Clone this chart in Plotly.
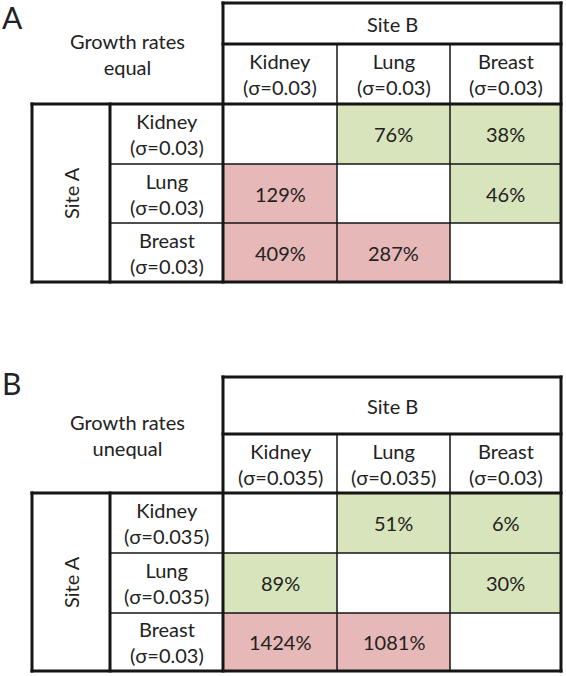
import plotly.graph_objects as go

# ---------------- data ----------------
PANEL_LABELS = ["A", "B"]
CORNER_TITLES = ["Growth rates<br>equal", "Growth rates<br>unequal"]
SITES = ["Kidney", "Lung", "Breast"]
SIGMA_PANEL_A = ["0.03", "0.03", "0.03"]
SIGMA_PANEL_B = ["0.035", "0.035", "0.03"]
VALUES_PANEL_A = [[None, 76, 38], [129, None, 46], [409, 287, None]]
VALUES_PANEL_B = [[None, 51, 6], [89, None, 30], [1424, 1081, None]]
ROW_GROUP = "Site A"
COL_GROUP = "Site B"
THRESHOLD = 100

# ---------------- layout / style ----------------
W, H = 566, 676
X_EDGES = [32, 110, 223, 337, 450, 561]
Y_EDGES = [[3, 44, 104, 164, 223, 282], [377, 434, 493, 553, 613, 671]]
LABEL_POS = [(12, 17), (11, 383)]
GREEN = "#d8e4bc"
RED = "#e6b8b7"
LINE = "#151515"
TXT = "#222222"
FONT = "Lato"
FS = 20
THICK, THIN = 3, 1.5

fig = go.Figure()
shapes = []
annots = []


def hline(y, x0, x1, w):
    e = w / 2 if w == THICK else 0
    shapes.append(dict(type="line", xref="x", yref="y", x0=x0 - e, x1=x1 + e, y0=y, y1=y,
                       line=dict(color=LINE, width=w), layer="above"))


def vline(x, y0, y1, w):
    e = w / 2 if w == THICK else 0
    shapes.append(dict(type="line", xref="x", yref="y", x0=x, x1=x, y0=y0 - e, y1=y1 + e,
                       line=dict(color=LINE, width=w), layer="above"))


def text(x, y, s, size=FS, angle=0):
    annots.append(dict(x=x, y=y, xref="x", yref="y", text=s, showarrow=False,
                       font=dict(family=FONT, size=size, color=TXT), textangle=angle,
                       xanchor="center", yanchor="middle", align="center"))


panels = [(SIGMA_PANEL_A, VALUES_PANEL_A), (SIGMA_PANEL_B, VALUES_PANEL_B)]
for p, (sigmas, vals) in enumerate(panels):
    ye = Y_EDGES[p]
    xe = X_EDGES
    # fills
    for i in range(3):
        for j in range(3):
            v = vals[i][j]
            if v is None:
                continue
            shapes.append(dict(type="rect", xref="x", yref="y",
                               x0=xe[2 + j], x1=xe[3 + j], y0=ye[2 + i], y1=ye[3 + i],
                               fillcolor=GREEN if v < THRESHOLD else RED,
                               line=dict(width=0), layer="below"))
            text((xe[2 + j] + xe[3 + j]) / 2, (ye[2 + i] + ye[3 + i]) / 2, f"{v}%")
    # labels
    text((xe[0] + xe[2]) / 2, (ye[0] + ye[2]) / 2, CORNER_TITLES[p])
    text((xe[2] + xe[5]) / 2, (ye[0] + ye[1]) / 2, COL_GROUP)
    text((xe[0] + xe[1]) / 2, (ye[2] + ye[5]) / 2, ROW_GROUP, angle=-90)
    for k in range(3):
        lab = f"{SITES[k]}<br>(σ={sigmas[k]})"
        text((xe[2 + k] + xe[3 + k]) / 2, (ye[1] + ye[2]) / 2, lab)
        text((xe[1] + xe[2]) / 2, (ye[2 + k] + ye[3 + k]) / 2, lab)
    lx, ly = LABEL_POS[p]
    text(lx, ly, PANEL_LABELS[p], size=30)
    # thin lines
    for k in (3, 4):
        vline(xe[k], ye[1], ye[5], THIN)
        hline(ye[k], xe[1], xe[5], THIN)
    # thick lines
    hline(ye[0], xe[2], xe[5], THICK)
    hline(ye[1], xe[2], xe[5], THICK)
    hline(ye[2], xe[0], xe[5], THICK)
    hline(ye[5], xe[0], xe[5], THICK)
    vline(xe[0], ye[2], ye[5], THICK)
    vline(xe[1], ye[2], ye[5], THICK)
    vline(xe[2], ye[0], ye[5], THICK)
    vline(xe[5], ye[0], ye[5], THICK)

fig.add_trace(go.Scatter(x=[0, W], y=[0, H], mode="markers", marker=dict(opacity=0),
                         hoverinfo="skip", showlegend=False))
fig.update_layout(
    width=W, height=H, autosize=False,
    margin=dict(l=0, r=0, t=0, b=0, pad=0),
    paper_bgcolor="white", plot_bgcolor="white",
    shapes=shapes, annotations=annots,
    xaxis=dict(range=[0, W], visible=False, fixedrange=True, domain=[0, 1]),
    yaxis=dict(range=[H, 0], visible=False, fixedrange=True, domain=[0, 1]),
    showlegend=False,
)
fig.write_html("out.html", config={"displayModeBar": False},
               post_script="document.body.style.margin='0';document.body.style.overflow='hidden';")
